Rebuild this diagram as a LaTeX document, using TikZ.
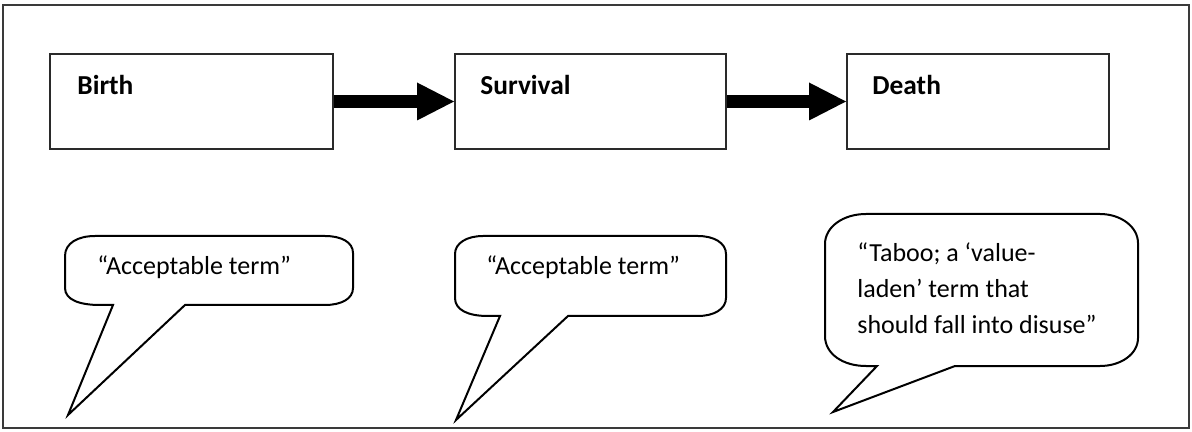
\documentclass[tikz,border=0pt]{standalone}
\usepackage{fontspec}
\setmainfont{Carlito}
\usetikzlibrary{arrows.meta}
\definecolor{framec}{HTML}{3A3A3A}
\definecolor{boxc}{HTML}{2A2A2A}
\begin{document}
\begin{tikzpicture}[x=0.5pt,y=-0.5pt,
  stagebox/.style={draw=boxc, line width=1pt, minimum width=#1, minimum height=47.5pt, inner sep=0pt},
  stagetext/.style={font=\fontsize{13.7}{16}\selectfont\bfseries, inner sep=0pt, anchor=base west},
  bigarrow/.style={line width=6.5pt, -{Triangle[length=18.5pt,width=19pt,line width=0pt]}},
  bubble/.style={draw=black, line width=1pt, line join=miter, fill=white},
  bubbletext/.style={font=\fontsize{13}{18}\selectfont, inner sep=0pt, align=left}]
\useasboundingbox (0,0) rectangle (1192,432);
% outer frame
\draw[framec, line width=1pt] (3,5) rectangle (1189,428);
% stage boxes
\node[stagebox=141.5pt] (birth) at (191.5,101.5) {};
\node[stagebox=135.5pt] (survival) at (590.5,101.5) {};
\node[stagebox=131pt] (death) at (978,101.5) {};
\node[stagetext] (birthtxt) at (77,95) {Birth};
\node[stagetext] (survivaltxt) at (480,95) {Survival};
\node[stagetext] (deathtxt) at (872,95) {Death};
% arrows
\draw[bigarrow] (birth.east) -- (survival.west);
\draw[bigarrow] (survival.east) -- (death.west);
% bubble 1
\draw[bubble] (113,305) -- (68,415) -- (185,305) -- (325,305)
  .. controls (341,305) and (353,299) .. (353,288) -- (353,253)
  .. controls (353,242) and (341,236) .. (325,236) -- (95,236)
  .. controls (78,236) and (65,243) .. (65,256) -- (65,288)
  .. controls (65,300) and (80,305) .. (100,305) -- cycle;
\node[bubbletext, anchor=base west] (t1) at (97,275) {“Acceptable term”};
% bubble 2
\draw[bubble] (500,316) -- (456,420) -- (568,316) -- (698,316)
  .. controls (714,316) and (726,309) .. (726,298) -- (726,254)
  .. controls (726,243) and (714,236) .. (698,236) -- (483,236)
  .. controls (467,236) and (455,243) .. (455,254) -- (455,298)
  .. controls (455,310) and (468,316) .. (488,316) -- cycle;
\node[bubbletext, anchor=base west] (t2) at (486,275) {“Acceptable term”};
% bubble 3
\draw[bubble] (877,366) -- (833,412) -- (955,366) -- (1100,366)
  .. controls (1121,366) and (1138,354) .. (1138,338) -- (1138,243)
  .. controls (1138,227) and (1121,214) .. (1100,214) -- (866,214)
  .. controls (843,214) and (825,227) .. (825,244) -- (825,336)
  .. controls (825,354) and (843,366) .. (866,366) -- cycle;
\node[bubbletext, anchor=north west] (t3) at (857,242) {“Taboo; a ‘value-\\laden’ term that\\should fall into disuse”};
\end{tikzpicture}
\end{document}
